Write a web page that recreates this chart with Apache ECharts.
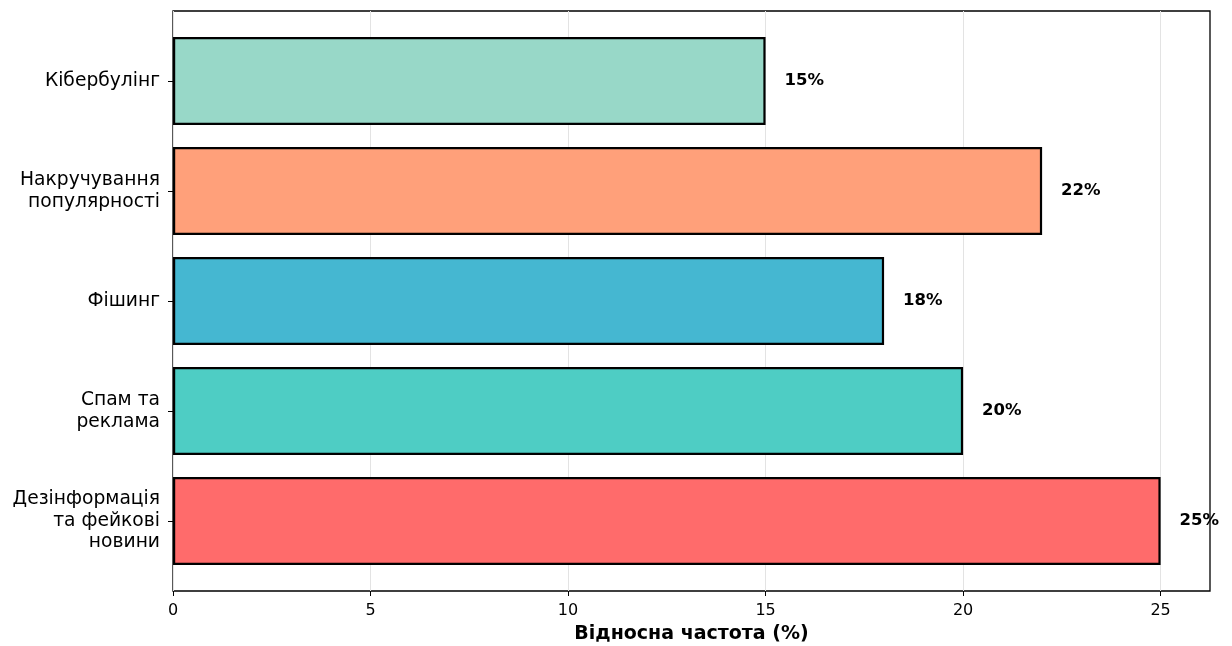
<!DOCTYPE html>
<html>
<head>
<meta charset="utf-8">
<script src="https://cdn.jsdelivr.net/npm/echarts@6/dist/echarts.min.js"></script>
<style>
  html, body { margin: 0; padding: 0; background: #fff; }
  #chart { width: 1232px; height: 646px; }
</style>
</head>
<body>
<div id="chart"></div>
<script>
// Categories listed bottom to top
const categories = [
  'Дезінформація\nта фейкові\nновини',
  'Спам та\nреклама',
  'Фішинг',
  'Накручування\nпопулярності',
  'Кібербулінг'
];
const values = [25, 20, 18, 22, 15];
const colors = ['#FF6B6B', '#4ECDC4', '#45B7D1', '#FFA07A', '#98D8C8'];
const xTicks = [0, 5, 10, 15, 20, 25];
const xTitle = 'Відносна частота (%)';

const FONT = 'DejaVu Sans';
const xMax = 26.25;

const chart = echarts.init(document.getElementById('chart'));
chart.setOption({
  animation: false,
  textStyle: { fontFamily: FONT },
  grid: [
    // frame + x axis
    { left: 173, right: 22, top: 11, bottom: 55, outerBoundsMode: 'none', containLabel: false,
      show: true, borderColor: '#000', borderWidth: 1.3, backgroundColor: 'transparent' },
    // bars (category bands inset like matplotlib margins)
    { left: 173, right: 22, top: 26, bottom: 70, outerBoundsMode: 'none', containLabel: false }
  ],
  xAxis: [
    {
      gridIndex: 0, type: 'value', min: 0, max: xMax, interval: 5,
      axisLine: { show: false },
      axisTick: { show: true, length: 5, lineStyle: { color: '#000', width: 1 },
        customValues: xTicks },
      axisLabel: { color: '#000', fontSize: 16, margin: 12, fontFamily: FONT,
        customValues: xTicks },
      splitLine: { show: true, lineStyle: { color: '#e3e3e3', width: 1 } },
      name: xTitle, nameLocation: 'middle', nameGap: 34,
      nameTextStyle: { color: '#000', fontSize: 19, fontWeight: 'bold', fontFamily: FONT }
    },
    {
      gridIndex: 1, type: 'value', min: 0, max: xMax,
      show: false
    }
  ],
  yAxis: [
    { gridIndex: 0, type: 'value', min: 0, max: 1, show: false },
    {
      gridIndex: 1, type: 'category', data: categories,
      axisLine: { show: false },
      axisTick: { show: true, alignWithLabel: true, length: 5, lineStyle: { color: '#000' } },
      axisLabel: { color: '#000', fontSize: 18.7, lineHeight: 21.5, margin: 13, align: 'right', fontFamily: FONT },
      splitLine: { show: false }
    }
  ],
  series: [{
    type: 'bar',
    xAxisIndex: 1,
    yAxisIndex: 1,
    barWidth: '80%',
    data: values.map((v, i) => ({
      value: v,
      itemStyle: { color: colors[i] }
    })),
    itemStyle: { borderColor: '#000', borderWidth: 2.2 },
    label: {
      show: true, position: 'right', distance: 19,
      formatter: p => p.value + '%',
      color: '#000', fontSize: 16.5, fontWeight: 'bold', fontFamily: FONT
    }
  }]
});
</script>
</body>
</html>
